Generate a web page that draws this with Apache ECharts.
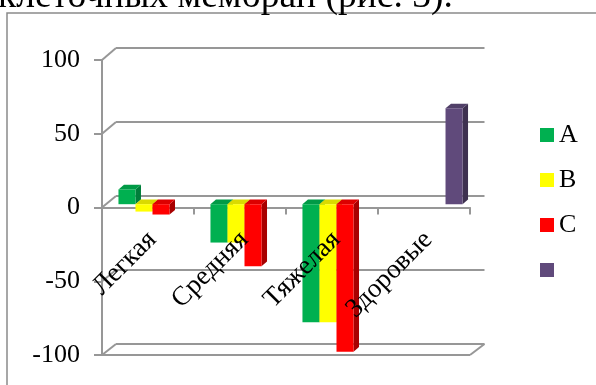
<!DOCTYPE html>
<html>
<head>
<meta charset="utf-8">
<script src="https://cdn.jsdelivr.net/npm/echarts@6/dist/echarts.min.js"></script>
<style>
  html, body { margin: 0; padding: 0; background: #fff; }
  #chart { width: 596px; height: 385px; }
</style>
</head>
<body>
<div id="chart"></div>
<script>
// Severity groups and the four measured series
const categories = ['Легкая', 'Средняя', 'Тяжелая', 'Здоровые'];
const seriesNames = ['A', 'B', 'C', ' '];
const valuesA = [10, -26, -80, null];
const valuesB = [-5, -26, -80, null];
const valuesC = [-7, -42, -100, null];
const valuesD = [null, null, null, 65];
const yTicks = [-100, -50, 0, 50, 100];
const headingText = 'клеточных мембран (рис. 3).';

const seriesValues = [valuesA, valuesB, valuesC, valuesD];
const seriesColors = ['#00B050', '#FFFF00', '#FF0000', '#604A7B'];
const topColors = ['#009A46', '#DADA00', '#DC0000', '#514068'];
const sideColors = ['#007E3A', '#B8B800', '#A80000', '#3E3150'];

const FONT = '"Liberation Serif", "Times New Roman", serif';
const GRAY = '#979797';

// 3D column: front offset of the bar plane and depth of each column
const BAR_SHIFT_X = 4.5, BAR_SHIFT_Y = -3.3;
const DEPTH_X = 5.5, DEPTH_Y = -4.6;
const BAR_FRACTION = 0.185;

function makeRenderer(idx) {
  return function (params, api) {
    const v = api.value(1);
    if (v == null || isNaN(v)) return null;
    const cat = api.value(0);
    const base = api.coord([cat, 0]);
    const tip = api.coord([cat, v]);
    const band = api.size([1, 0])[0];
    const w = band * BAR_FRACTION;
    const x0 = base[0] - 2 * w + idx * w + BAR_SHIFT_X;
    const x1 = x0 + w;
    const yTop = Math.min(base[1], tip[1]) + BAR_SHIFT_Y;
    const yBot = Math.max(base[1], tip[1]) + BAR_SHIFT_Y;
    return {
      type: 'group',
      children: [
        { type: 'polygon', shape: { points: [[x1, yTop], [x1 + DEPTH_X, yTop + DEPTH_Y], [x1 + DEPTH_X, yBot + DEPTH_Y], [x1, yBot]] },
          style: { fill: sideColors[idx] } },
        { type: 'polygon', shape: { points: [[x0, yTop], [x1, yTop], [x1 + DEPTH_X, yTop + DEPTH_Y], [x0 + DEPTH_X, yTop + DEPTH_Y]] },
          style: { fill: topColors[idx] } },
        { type: 'rect', shape: { x: x0, y: yTop, width: w, height: yBot - yTop },
          style: { fill: seriesColors[idx] } }
      ]
    };
  };
}

const chart = echarts.init(document.getElementById('chart'), null, { renderer: 'canvas' });

const series = seriesValues.map((vals, i) => ({
  type: 'custom',
  name: seriesNames[i],
  xAxisIndex: 0,
  yAxisIndex: 0,
  z: 5,
  itemStyle: { color: seriesColors[i] },
  renderItem: makeRenderer(i),
  encode: { x: 0, y: 1 },
  data: categories.map((c, k) => [k, vals[k]])
}));

chart.setOption({
  animation: false,
  backgroundColor: '#fff',
  textStyle: { fontFamily: FONT },
  grid: [
    { left: 102, right: 126, top: 60, bottom: 30, outerBoundsMode: 'none', containLabel: false },   // front plane
    { left: 116, right: 111.5, top: 48, bottom: 41, outerBoundsMode: 'none', containLabel: false }  // back wall
  ],
  xAxis: [
    { type: 'category', gridIndex: 0, position: 'bottom', data: categories,
      axisLine: { onZero: true, lineStyle: { color: GRAY, width: 2 } },
      axisTick: { show: true, length: 7, lineStyle: { color: GRAY, width: 2 } },
      axisLabel: { show: false }, z: 1 },
    // label-only axis, lifted to the zero level so the names sit over the columns
    { type: 'category', gridIndex: 0, position: 'bottom', data: categories,
      axisLine: { show: false, onZero: false }, axisTick: { show: false },
      axisLabel: { rotate: 45, fontFamily: FONT, fontSize: 27, lineHeight: 12, color: '#000', margin: 24,
                   verticalAlign: 'top', interval: 0 },
      z: 20 },
    { type: 'category', gridIndex: 1, data: categories, show: false }
  ],
  yAxis: [
    { type: 'value', gridIndex: 0, min: -100, max: 100, interval: 50,
      axisLine: { show: true, lineStyle: { color: GRAY, width: 2 } },
      axisTick: { show: true, length: 8, lineStyle: { color: GRAY, width: 2 } },
      axisLabel: { fontFamily: FONT, fontSize: 26, color: '#000', margin: 22 },
      splitLine: { show: false } },
    { type: 'value', gridIndex: 1, min: -100, max: 100, interval: 50,
      axisLine: { show: false }, axisTick: { show: false }, axisLabel: { show: false },
      splitLine: { show: true, lineStyle: { color: GRAY, width: 2 } } }
  ],
  legend: {
    orient: 'vertical', left: 535, top: 117,
    icon: 'rect', itemWidth: 14, itemHeight: 14, itemGap: 19,
    textStyle: { fontFamily: FONT, fontSize: 26, lineHeight: 26, color: '#000' },
    data: seriesNames
  },
  series: series
});

// Side wall, floor edges, outer frame and heading, placed from the axes' own pixel mapping
function drawFrame() {
  const fy = v => chart.convertToPixel({ yAxisIndex: 0 }, v);
  const by = v => chart.convertToPixel({ yAxisIndex: 1 }, v);
  const fc0 = chart.convertToPixel({ xAxisIndex: 0 }, categories[0]);
  const fc1 = chart.convertToPixel({ xAxisIndex: 0 }, categories[1]);
  const bc0 = chart.convertToPixel({ xAxisIndex: 2 }, categories[0]);
  const bc1 = chart.convertToPixel({ xAxisIndex: 2 }, categories[1]);
  const fBand = fc1 - fc0, bBand = bc1 - bc0;
  const fl = fc0 - fBand / 2, fr = fl + fBand * categories.length;
  const bl = bc0 - bBand / 2, br = bl + bBand * categories.length;
  const floor = yTicks[0];
  const line = (x1, y1, x2, y2) => ({
    type: 'line', silent: true, z: 1,
    shape: { x1, y1, x2, y2 },
    style: { stroke: GRAY, lineWidth: 2 }
  });
  const els = [];
  yTicks.forEach(v => els.push(line(fl, fy(v), bl, by(v))));
  els.push(line(fl, fy(floor), fr, fy(floor)));
  els.push(line(fr, fy(floor), br, by(floor)));
  els.push({ type: 'rect', silent: true, z: 0,
    shape: { x: 7, y: 13, width: 800, height: 600 },
    style: { fill: null, stroke: '#8a8a8a', lineWidth: 1.5 } });
  els.push({ type: 'text', silent: true, z: 30, x: -2, y: -2.5,
    style: { text: headingText, font: '37.5px ' + FONT, fill: '#000', verticalAlign: 'middle', align: 'left' } });
  chart.setOption({
    xAxis: [{}, { offset: -(fy(floor) - fy(0)) }, {}],
    graphic: { elements: els }
  });
}
drawFrame();
</script>
</body>
</html>
